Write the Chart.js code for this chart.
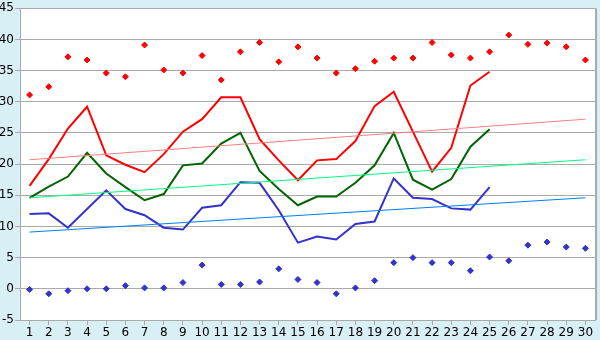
<!DOCTYPE html>
<html>
<head>
<meta charset="utf-8">
<script src="https://cdn.jsdelivr.net/npm/chart.js@4/dist/chart.umd.min.js"></script>
<style>
  html, body { margin: 0; padding: 0; background: #d9eff6; }
  #wrap { width: 600px; height: 340px; }
</style>
</head>
<body>
<div id="wrap"><canvas id="chart" width="600" height="340"></canvas></div>
<script>
const days = Array.from({ length: 30 }, (_, i) => String(i + 1));

// top scatter (red) and bottom scatter (blue), all 30 days
const highPoints = [31.1, 32.4, 37.2, 36.7, 34.6, 34.0, 39.1, 35.1, 34.6, 37.4,
  33.5, 38.0, 39.5, 36.4, 38.8, 37.0, 34.6, 35.3, 36.5, 37.0,
  37.0, 39.5, 37.5, 37.0, 38.0, 40.7, 39.2, 39.4, 38.8, 36.7];
const lowPoints = [-0.1, -0.8, -0.3, 0.0, 0.0, 0.5, 0.15, 0.15, 1.0, 3.8,
  0.7, 0.7, 1.1, 3.2, 1.5, 1.0, -0.8, 0.15, 1.3, 4.2,
  5.0, 4.2, 4.2, 2.9, 5.1, 4.5, 7.0, 7.5, 6.7, 6.5];

// lines, days 1-25
const redLine = [16.5, 20.8, 25.7, 29.2, 21.4, 19.9, 18.7, 21.6, 25.2, 27.2,
  30.7, 30.7, 24.0, 20.6, 17.4, 20.6, 20.8, 23.7, 29.3, 31.6,
  25.2, 18.8, 22.6, 32.6, 34.8];
const greenLine = [14.6, 16.4, 18.0, 21.8, 18.5, 16.3, 14.2, 15.2, 19.8, 20.1,
  23.3, 25.0, 18.9, 16.0, 13.4, 14.8, 14.8, 17.0, 19.8, 25.0,
  17.5, 15.9, 17.6, 22.8, 25.6];
const blueLine = [12.0, 12.1, 9.8, 12.8, 15.8, 12.8, 11.8, 9.8, 9.5, 13.0,
  13.4, 17.1, 17.0, 12.6, 7.4, 8.4, 7.9, 10.4, 10.8, 17.7,
  14.6, 14.4, 12.9, 12.7, 16.3];

// trend lines: value at day 1 and day 30
const redTrend = [20.7, 27.2];
const greenTrend = [14.6, 20.7];
const blueTrend = [9.1, 14.6];

const yTicks = { min: -5, max: 45, step: 5 };

function trendData(ends) {
  return days.map((_, i) => (i === 0 ? ends[0] : i === days.length - 1 ? ends[1] : null));
}

function lineSet(data, color, width) {
  return {
    data: data, borderColor: color, backgroundColor: color,
    borderWidth: width, pointRadius: 0, tension: 0, spanGaps: true, fill: false,
  };
}

function dotSet(data, color) {
  return {
    data: data, showLine: false, pointStyle: "rectRot", pointRadius: 3,
    borderWidth: 1, borderColor: color, backgroundColor: color,
  };
}

const panel = {
  id: "panel",
  beforeDraw(chart) {
    const { ctx, chartArea: a } = chart;
    ctx.save();
    ctx.fillStyle = "#d9eff6";
    ctx.fillRect(0, 0, chart.width, chart.height);
    ctx.fillStyle = "#ffffff";
    ctx.fillRect(a.left, a.top, a.right - a.left, a.bottom - a.top);
    ctx.restore();
  },
  afterDraw(chart) {
    const { ctx, chartArea: a } = chart;
    ctx.save();
    ctx.strokeStyle = "#aaaaaa";
    ctx.lineWidth = 2;
    ctx.beginPath();
    ctx.moveTo(a.right + 1, a.top);
    ctx.lineTo(a.right + 1, a.bottom);
    ctx.stroke();
    ctx.restore();
  },
};

const tickFont = { family: "DejaVu Sans", size: 12 };

new Chart(document.getElementById("chart"), {
  type: "line",
  data: {
    labels: days,
    datasets: [
      lineSet(trendData(redTrend), "#ff8080", 1),
      lineSet(trendData(greenTrend), "#00ff80", 1),
      lineSet(trendData(blueTrend), "#0080ff", 1),
      lineSet(redLine, "#ff0000", 2),
      lineSet(greenLine, "#006400", 2),
      lineSet(blueLine, "#3333cc", 2),
      dotSet(highPoints, "#ff0000"),
      dotSet(lowPoints, "#3333cc"),
    ],
  },
  options: {
    responsive: false,
    animation: false,
    layout: { padding: { top: 6, right: 5, left: 0, bottom: 0 } },
    plugins: { legend: { display: false }, tooltip: { enabled: false } },
    scales: {
      x: {
        offset: true,
        grid: { offset: false, drawOnChartArea: false, color: "#aaaaaa", tickLength: 5 },
        border: { color: "#aaaaaa", width: 1 },
        ticks: { color: "#000", font: tickFont, padding: 1, maxRotation: 0, autoSkip: false },
        afterFit(scale) { scale.height = 20; },
      },
      y: {
        min: yTicks.min, max: yTicks.max,
        grid: { color: "#aaaaaa", lineWidth: 1, tickLength: 5 },
        border: { color: "#aaaaaa", width: 1 },
        ticks: { stepSize: yTicks.step, color: "#000", font: tickFont, padding: 1 },
        afterFit(scale) { scale.width = 20; },
      },
    },
  },
  plugins: [panel],
});
</script>
</body>
</html>
